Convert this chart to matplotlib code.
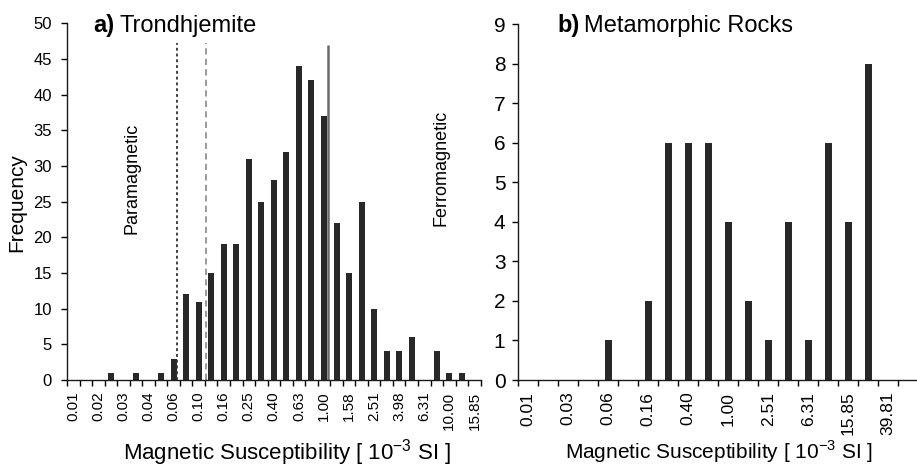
import matplotlib
matplotlib.use('Agg')
import matplotlib.pyplot as plt
import numpy as np

plt.rcParams['font.family'] = ['Liberation Sans', 'DejaVu Sans']
plt.rcParams['mathtext.fontset'] = 'custom'
plt.rcParams['mathtext.rm'] = 'Liberation Sans'

# a) Trondhjemite, log bins 0.1 apart, every second one labelled
left_counts = [0, 0, 0, 1, 0, 1, 0, 1, 3, 12, 11, 15, 19, 19, 31, 25, 28, 32,
               44, 42, 37, 22, 15, 25, 10, 4, 4, 6, 0, 4, 1, 1, 0]
left_labels = ['0.01', '0.02', '0.03', '0.04', '0.06', '0.10', '0.16', '0.25', '0.40',
               '0.63', '1.00', '1.58', '2.51', '3.98', '6.31', '10.00', '15.85']
# boundary lines, in bin units
para_line = 8.26
para_line2 = 10.57
ferro_line = 20.33

# b) Metamorphic rocks, log bins 0.2 apart
right_counts = [0, 0, 0, 0, 1, 0, 2, 6, 6, 6, 4, 2, 1, 4, 1, 6, 4, 8, 0, 0]
right_labels = ['0.01', '0.03', '0.06', '0.16', '0.40', '1.00', '2.51', '6.31',
                '15.85', '39.81']

bar_color = '#282828'
xlabel = r'Magnetic Susceptibility [ 10$^{-3}$ SI ]'
narrow = ['Liberation Sans Narrow', 'Liberation Sans']

fig = plt.figure(figsize=(9.17, 4.66), dpi=100)
ax1 = fig.add_axes([67 / 917, 86 / 466, 413.7 / 917, 356.7 / 466])
ax2 = fig.add_axes([518.3 / 917, 86 / 466, 400 / 917, 356 / 466])

# left panel
n1 = len(left_counts)
ax1.bar(np.arange(n1), left_counts, width=0.48, color=bar_color)
ax1.vlines(para_line, 0, 47.2, colors='#333333', lw=1.3, linestyles=(0, (1.6, 1.6)))
ax1.vlines(para_line2, 0, 47.2, colors='#9a9a9a', lw=1.4, linestyles=(0, (3.2, 2.2)))
ax1.vlines(ferro_line, 0, 47, colors='#6a6a6a', lw=1.8)
ax1.set_xlim(-0.5, n1 - 0.5)
ax1.set_ylim(0, 50)
ax1.set_yticks(range(0, 51, 5))
ax1.set_xticks(np.arange(0, n1, 2))
ax1.set_xticklabels(left_labels, rotation=90, fontsize=11, family=narrow)
ax1.set_xticks(np.arange(-0.5, n1, 1), minor=True)
ax1.tick_params(axis='x', which='major', length=0, pad=8.4)
ax1.tick_params(axis='x', which='minor', length=4, width=1)
ax1.tick_params(axis='y', length=4, width=1, pad=6.8, labelsize=12)

# right panel
n2 = len(right_counts)
ax2.bar(np.arange(n2), right_counts, width=0.37, color=bar_color)
ax2.set_xlim(-0.5, n2 - 0.5)
ax2.set_ylim(0, 9)
ax2.set_yticks(range(0, 10))
ax2.set_xticks(np.arange(0, n2, 2))
ax2.set_xticklabels(right_labels, rotation=90, fontsize=12.5, family=narrow)
ax2.set_xticks(np.arange(-0.5, n2, 1), minor=True)
ax2.tick_params(axis='x', which='major', length=0, pad=8.4)
ax2.tick_params(axis='x', which='minor', length=4, width=1)
ax2.tick_params(axis='y', length=4.5, width=1, pad=4.8, labelsize=15)

for ax in (ax1, ax2):
    ax.spines['top'].set_visible(False)
    ax.spines['right'].set_visible(False)
    ax.spines['left'].set_linewidth(1)
    ax.spines['bottom'].set_linewidth(1)
    ax.spines['left'].set_color('#1a1a1a')
    ax.spines['bottom'].set_color('#1a1a1a')

# titles: bold letter, then the name
renderer = fig.canvas.get_renderer()
for x0, letter, name in [(93, 'a)', 'Trondhjemite'), (557, 'b)', 'Metamorphic Rocks')]:
    t = fig.text(x0 / 917, 434 / 466, letter, fontsize=17, fontweight='bold',
                 family='Liberation Sans', va='baseline')
    w = t.get_window_extent(renderer).width
    fig.text((x0 + w + 5) / 917, 434 / 466, name, fontsize=17, va='baseline')

fig.text(287 / 917, 7 / 466, xlabel, fontsize=16, ha='center', va='baseline')
fig.text(719 / 917, 7 / 466, xlabel, fontsize=15, ha='center', va='baseline')
fig.text(17 / 917, 263 / 466, 'Frequency', fontsize=15, rotation=90, ha='center', va='center')
fig.text(131.7 / 917, 288 / 466, 'Paramagnetic', fontsize=13, rotation=90, ha='center', va='center')
fig.text(441 / 917, 298 / 466, 'Ferromagnetic', fontsize=13, rotation=90, ha='center', va='center')

fig.savefig('out.png', dpi=100)
